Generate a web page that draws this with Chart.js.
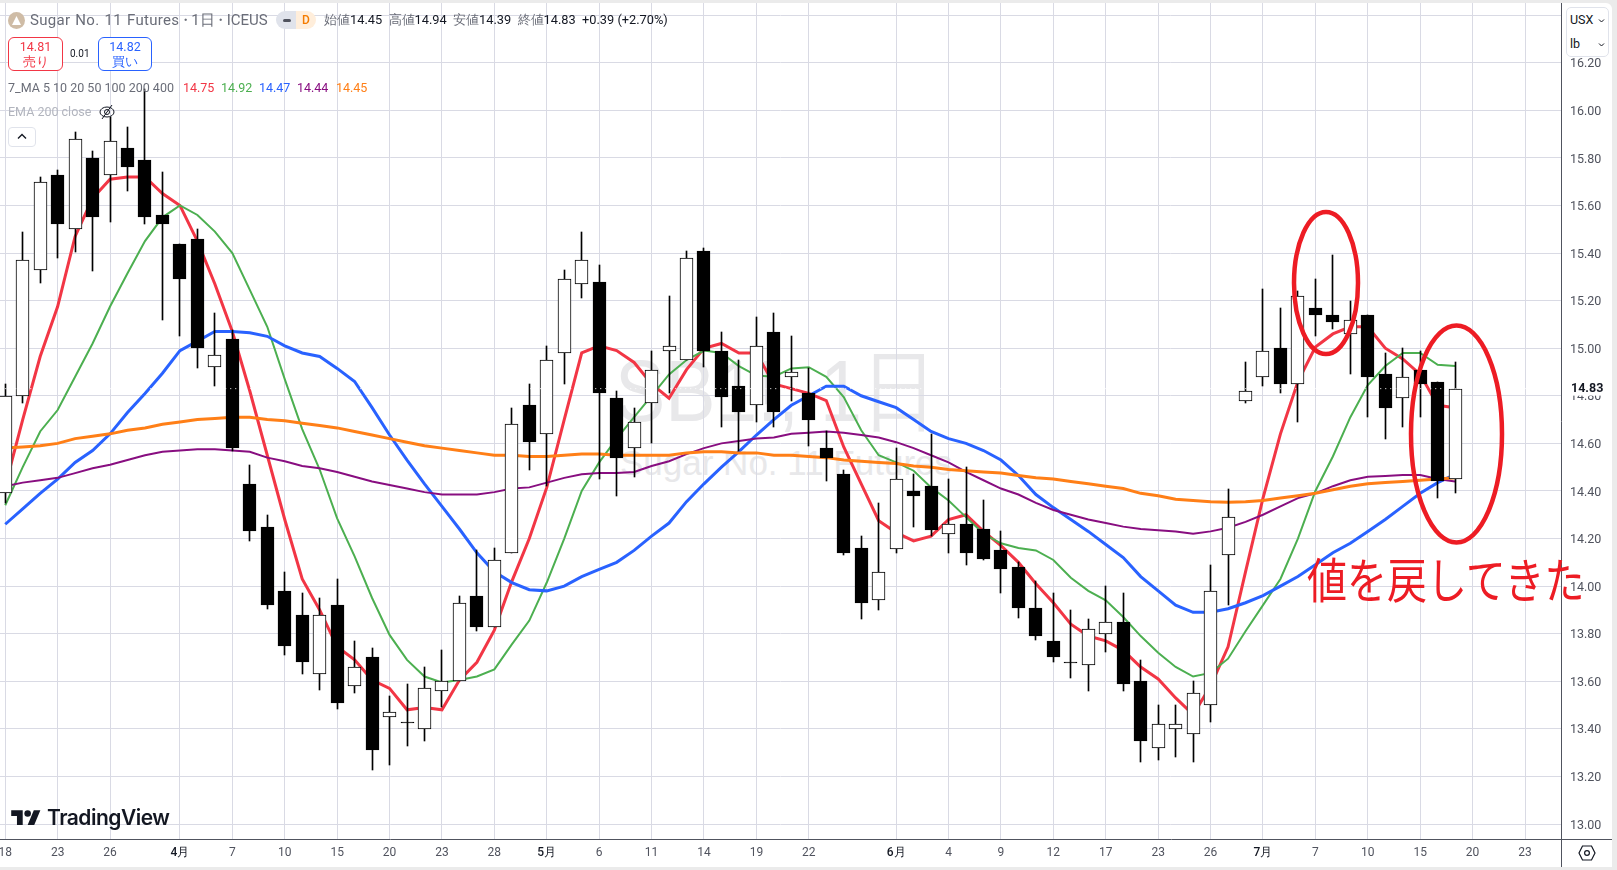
<!DOCTYPE html>
<html>
<head>
<meta charset="utf-8">
<title>Sugar No. 11 Futures</title>
<script src="https://cdn.jsdelivr.net/npm/chart.js@4"></script>
<style>
html, body { margin: 0; padding: 0; background: #ebebeb; width: 1617px; height: 870px; overflow: hidden; }
body { font-family: Roboto, sans-serif; color: #131722; }
#panel { position: absolute; left: 0; top: 3px; width: 1612px; height: 864px; background: #fff; border-top-right-radius: 6px; overflow: hidden; }
#myChart { position: absolute; left: 0; top: 0; }
.abs { position: absolute; white-space: nowrap; }
.wm { color: #e8e8ea; font-family: "Liberation Sans", sans-serif; transform-origin: 0 0; }
.gray { color: #6a6d78; }
.box { position: absolute; background: #fff; border-radius: 6px; border: 1px solid; box-sizing: border-box; text-align: center; font-size: 12.5px; line-height: 15px; padding-top: 1px; }
svg { position: absolute; overflow: visible; }
</style>
</head>
<body>
<div id="panel">
  <div class="abs wm" style="left:615px;top:338px;font-size:88px;line-height:100px;transform:scaleX(0.855)">SB1!, 1日</div>
  <div class="abs wm" style="left:620px;top:440px;font-size:35px;line-height:40px">Sugar No. 11 Futures</div>
  <canvas id="myChart" width="1612" height="864"></canvas>
</div>

<!-- cabecalho -->
<svg style="left:8px;top:12px" width="17" height="17"><circle cx="8.5" cy="8.5" r="8.5" fill="#cfbca6"/><path d="M8.5 4 L13 13 H4 Z" fill="#fff"/></svg>
<div class="abs gray" style="left:30px;top:11px;font-size:15px;line-height:18px"><span style="letter-spacing:0.3px;word-spacing:1px">Sugar No. 11 Futures</span><span style="margin:0 -1.5px">・</span>1日<span style="margin:0 -1.5px">・</span>ICEUS</div>
<div class="abs" style="left:276px;top:11px;width:20px;height:18px;background:#e0e3eb;border-radius:9px 0 0 9px"></div>
<div class="abs" style="left:283px;top:19px;width:8px;height:3px;background:#50535e;border-radius:2px"></div>
<div class="abs" style="left:296px;top:11px;width:20px;height:18px;background:#ffeedb;border-radius:0 9px 9px 0;color:#f57c00;font-size:12px;line-height:18px;text-align:center;font-weight:500">D</div>
<div class="abs" style="left:324px;top:11px;font-size:12.8px;line-height:18px"><span class="gray">始値</span>14.45&nbsp; <span class="gray">高値</span>14.94&nbsp; <span class="gray">安値</span>14.39&nbsp; <span class="gray">終値</span>14.83&nbsp; +0.39 (+2.70%)</div>

<div class="box" style="left:8px;top:37px;width:55px;height:34px;border-color:#f23645;color:#f23645">14.81<br>売り</div>
<div class="abs" style="left:70px;top:47px;font-size:10px;line-height:14px">0.01</div>
<div class="box" style="left:98px;top:37px;width:54px;height:34px;border-color:#2962ff;color:#2962ff">14.82<br>買い</div>

<div class="abs gray" style="left:8px;top:80px;font-size:12.5px;line-height:16px">7_MA 5 10 20 50 100 200 400</div>
<div class="abs" style="left:183px;top:80px;font-size:12.5px;line-height:16px;color:#f23645">14.75</div>
<div class="abs" style="left:221px;top:80px;font-size:12.5px;line-height:16px;color:#4caf50">14.92</div>
<div class="abs" style="left:259px;top:80px;font-size:12.5px;line-height:16px;color:#2962ff">14.47</div>
<div class="abs" style="left:297px;top:80px;font-size:12.5px;line-height:16px;color:#880e80">14.44</div>
<div class="abs" style="left:336px;top:80px;font-size:12.5px;line-height:16px;color:#ff7f17">14.45</div>

<div class="abs" style="left:8px;top:104px;font-size:12.5px;line-height:16px;color:#b2b5be">EMA 200 close</div>
<svg style="left:99px;top:104px" width="16" height="16" fill="none" stroke="#131722" stroke-width="1"><ellipse cx="8" cy="8" rx="7" ry="5"/><circle cx="8" cy="8" r="2.5"/><path d="M3 15 L13 1"/></svg>
<div class="abs" style="left:8px;top:127px;width:28px;height:20px;border:1px solid #e0e3eb;border-radius:4px;box-sizing:border-box"></div>
<svg style="left:17px;top:133px" width="10" height="7" fill="none" stroke="#131722" stroke-width="1.4"><path d="M1 5.5 L5 1.5 L9 5.5"/></svg>

<!-- logo -->
<svg style="left:11px;top:807px" width="30" height="23" viewBox="0 0 36 28" fill="#131722"><path d="M14 22H7V11H0V4h14v18zM28 22h-8l7.5-18h8L28 22z"/><circle cx="20" cy="8" r="4"/></svg>
<div class="abs" style="left:47px;top:805px;font-family:Inter,sans-serif;font-weight:600;font-size:21px;line-height:26px;letter-spacing:-0.5px">TradingView</div>

<!-- canto direito -->
<div class="abs" style="left:1561px;top:840px;width:1px;height:27px;background:#50535e"></div>
<div class="abs" style="left:1561px;top:839px;width:51px;height:1px;background:#50535e"></div>
<svg style="left:1578px;top:845px" width="18" height="16" fill="none" stroke="#131722" stroke-width="1.2"><path d="M4.5 1 H13.5 L17 8 L13.5 15 H4.5 L1 8 Z"/><circle cx="9" cy="8" r="2.4"/></svg>
<div class="abs" style="left:1566px;top:7px;width:43px;height:50px;background:#fff;border:1px solid #e0e3eb;border-radius:5px;box-sizing:border-box"></div>
<div class="abs" style="left:1570px;top:12px;font-size:12.5px;line-height:16px">USX</div>
<div class="abs" style="left:1570px;top:36px;font-size:12.5px;line-height:16px">lb</div>
<svg style="left:1598px;top:18px" width="7" height="30" fill="none" stroke="#131722" stroke-width="1"><path d="M1 1.5 L3.5 4 L6 1.5"/><path d="M1 25.5 L3.5 28 L6 25.5"/></svg>

<!-- marcacoes feitas a mao -->
<svg style="left:0;top:0" width="1617" height="870" fill="none" stroke="#ed1c24" stroke-width="4.5">
  <ellipse cx="1326" cy="283" rx="32" ry="71"/>
  <ellipse cx="1456.5" cy="434" rx="45.5" ry="108.5"/>
</svg>
<div class="abs" style="left:1307px;top:552px;font-family:'Noto Sans CJK JP',sans-serif;font-size:40px;line-height:52px;color:#ed1c24;transform:scaleY(1.2)">値を戻してきた</div>

<script>
// valores, um por candle
const opens = [14.39,14.80,15.33,15.73,15.50,15.80,15.73,15.84,15.79,15.56,15.44,15.46,14.92,15.04,14.43,14.25,13.98,13.88,13.63,13.92,13.58,13.70,13.45,13.43,13.40,13.56,13.60,13.96,13.83,14.14,14.76,14.64,14.98,15.27,15.28,14.79,14.58,14.77,14.99,14.95,15.41,14.99,14.84,14.76,15.07,14.88,14.81,14.58,14.47,14.16,13.94,14.155,14.40,14.42,14.22,14.26,14.24,14.15,14.08,13.91,13.77,13.68,13.67,13.80,13.85,13.60,13.32,13.40,13.38,13.50,14.13,14.78,14.88,15.00,14.85,15.17,15.14,15.06,15.14,14.89,14.79,14.91,14.86,14.45]
const highs = [14.85,15.49,15.72,15.75,15.91,15.83,15.97,15.93,16.09,15.74,15.44,15.50,15.15,15.075,14.51,14.30,14.06,13.97,13.95,14.03,13.77,13.74,13.54,13.59,13.66,13.73,13.96,14.15,14.16,14.75,14.85,15.01,15.33,15.49,15.35,14.82,14.75,14.99,15.22,15.41,15.42,15.07,14.95,15.13,15.15,15.05,14.915,14.65,14.49,14.21,14.35,14.58,14.47,14.64,14.45,14.50,14.36,14.23,14.10,14.02,13.97,13.90,13.86,14.00,13.97,13.69,13.50,13.50,13.60,14.09,14.41,14.94,15.25,15.17,15.24,15.29,15.39,15.20,15.14,14.98,15.00,14.99,14.86,14.94]
const lows = [14.35,14.77,15.275,15.38,15.405,15.325,15.53,15.66,15.52,15.12,15.05,14.915,14.84,14.57,14.19,13.905,13.71,13.63,13.565,13.485,13.55,13.225,13.25,13.33,13.35,13.49,13.60,13.81,13.83,14.14,14.49,14.42,14.85,15.21,14.45,14.38,14.46,14.60,14.81,14.95,14.92,14.67,14.57,14.69,14.67,14.78,14.59,14.44,14.13,13.86,13.90,14.14,14.25,14.21,14.14,14.09,14.11,13.97,13.865,13.775,13.68,13.615,13.56,13.725,13.56,13.26,13.27,13.28,13.26,13.43,13.92,14.77,14.84,14.81,14.69,15.05,15.08,14.89,14.71,14.62,14.67,14.71,14.37,14.39]
const closes = [14.80,15.37,15.70,15.52,15.88,15.55,15.87,15.76,15.55,15.52,15.29,15.00,14.97,14.58,14.23,13.92,13.75,13.68,13.88,13.51,13.66,13.31,13.47,13.43,13.57,13.60,13.93,13.83,14.11,14.68,14.605,14.95,15.29,15.37,14.81,14.54,14.69,14.91,15.01,15.38,14.99,14.795,14.73,15.01,14.73,14.90,14.70,14.54,14.14,13.93,14.06,14.45,14.38,14.235,14.26,14.14,14.115,14.07,13.91,13.79,13.70,13.68,13.82,13.85,13.59,13.35,13.42,13.42,13.55,13.98,14.29,14.82,14.99,14.85,15.22,15.14,15.11,15.12,14.88,14.75,14.88,14.85,14.44,14.83]

const ma5 = [14.42,14.70,14.965,15.175,15.47,15.63,15.71,15.72,15.72,15.65,15.60,15.45,15.27,15.07,14.82,14.55,14.28,14.03,13.90,13.745,13.69,13.605,13.57,13.48,13.49,13.48,13.605,13.68,13.815,14.02,14.20,14.415,14.70,14.98,15.01,14.99,14.94,14.85,14.79,14.91,15.00,15.02,14.98,14.98,14.85,14.83,14.81,14.78,14.585,14.43,14.275,14.225,14.19,14.21,14.28,14.30,14.23,14.17,14.10,14.01,13.93,13.84,13.79,13.77,13.73,13.66,13.61,13.53,13.46,13.58,13.745,14.06,14.37,14.64,14.86,15.005,15.06,15.09,15.09,15.00,14.955,14.89,14.76,14.75]
const ma10 = [14.34,14.50,14.65,14.74,14.88,15.02,15.175,15.315,15.45,15.55,15.60,15.56,15.49,15.40,15.245,15.09,14.87,14.66,14.49,14.285,14.125,13.95,13.795,13.69,13.62,13.595,13.605,13.62,13.65,13.755,13.855,14.015,14.20,14.40,14.52,14.62,14.71,14.80,14.89,14.95,14.99,14.98,14.925,14.885,14.88,14.915,14.92,14.88,14.795,14.655,14.55,14.52,14.485,14.415,14.36,14.29,14.22,14.18,14.16,14.15,14.11,14.035,13.98,13.94,13.87,13.79,13.72,13.66,13.62,13.635,13.695,13.81,13.92,14.03,14.20,14.40,14.545,14.71,14.845,14.925,14.98,14.98,14.93,14.925]
const ma20 = [14.26,14.325,14.39,14.45,14.52,14.57,14.64,14.73,14.81,14.895,14.99,15.03,15.07,15.07,15.065,15.05,15.01,14.98,14.965,14.915,14.86,14.75,14.635,14.53,14.43,14.335,14.24,14.14,14.06,14.015,13.985,13.98,14.00,14.04,14.07,14.10,14.15,14.21,14.265,14.355,14.43,14.50,14.565,14.635,14.70,14.76,14.80,14.84,14.84,14.80,14.775,14.75,14.70,14.65,14.62,14.60,14.57,14.53,14.465,14.385,14.33,14.28,14.23,14.175,14.12,14.04,13.98,13.92,13.89,13.89,13.905,13.93,13.96,14.00,14.04,14.09,14.14,14.18,14.23,14.28,14.335,14.39,14.435,14.47]
const ma50 = [14.42,14.435,14.445,14.455,14.475,14.495,14.51,14.53,14.55,14.565,14.57,14.575,14.575,14.57,14.565,14.54,14.525,14.505,14.495,14.48,14.46,14.44,14.425,14.41,14.395,14.385,14.385,14.385,14.395,14.41,14.415,14.435,14.455,14.47,14.475,14.475,14.48,14.505,14.525,14.555,14.58,14.60,14.61,14.62,14.625,14.64,14.645,14.65,14.645,14.635,14.625,14.605,14.58,14.55,14.52,14.48,14.445,14.41,14.385,14.35,14.32,14.30,14.28,14.265,14.25,14.24,14.235,14.23,14.22,14.23,14.245,14.27,14.30,14.335,14.37,14.39,14.42,14.445,14.46,14.463,14.467,14.467,14.45,14.44]
const ema200 = [14.58,14.585,14.59,14.60,14.62,14.63,14.64,14.655,14.665,14.68,14.69,14.70,14.705,14.71,14.71,14.70,14.695,14.685,14.675,14.665,14.65,14.635,14.62,14.605,14.59,14.58,14.57,14.56,14.55,14.55,14.545,14.545,14.55,14.555,14.555,14.55,14.55,14.55,14.55,14.56,14.565,14.565,14.56,14.56,14.55,14.55,14.545,14.54,14.53,14.525,14.52,14.515,14.505,14.50,14.49,14.485,14.48,14.475,14.465,14.455,14.45,14.44,14.43,14.42,14.41,14.39,14.38,14.365,14.36,14.355,14.352,14.355,14.36,14.37,14.38,14.39,14.405,14.42,14.43,14.435,14.44,14.445,14.45,14.455]

const tickBars = [0,3,6,10,13,16,19,22,25,28,31,34,37,40,43,46,51,54,57,60,63,66,69,72,75,78,81,84,87]
const tickNames = ["18","23","26","4月","7","10","15","20","23","28","5月","6","11","14","19","22","6月","4","9","12","17","23","26","7月","7","10","15","20","23"]
const priceTicks = [13,13.2,13.4,13.6,13.8,14,14.2,14.4,14.6,14.8,15,15.2,15.4,15.6,15.8,16,16.2,16.4]
const lastPrice = 14.83

const textColor = "#50535e"
const gridColor = "#d9dae4"

function serie(valores) {
    return valores.map((y, i) => ({ x: i, y: y }))
}

function linha(label, valores, cor, largura, ordem) {
    return {
        type: "line",
        label: label,
        data: serie(valores),
        borderColor: cor,
        borderWidth: largura,
        pointRadius: 0,
        tension: 0,
        order: ordem,
    }
}

// encaixa os candles no pixel inteiro, senao a borda fica borrada
const candleNitido = {
    id: "candleNitido",
    afterDatasetsUpdate(chart) {
        chart.getSortedVisibleDatasetMetas().forEach((meta) => {
            if (meta.type !== "bar") return
            meta.data.forEach((el) => {
                el.x = Math.floor(el.x) + 0.5
                el.y = Math.round(el.y)
                el.base = Math.round(el.base)
                if (el.y === el.base) el.base = el.y + 1
            })
        })
    },
}

const precoAtual = {
    id: "precoAtual",
    afterDraw(chart) {
        const ctx = chart.ctx
        const y = chart.scales.y.getPixelForValue(lastPrice)
        ctx.save()
        ctx.fillStyle = "#fff"
        ctx.fillRect(chart.chartArea.right + 1, y - 7, 50, 14)
        ctx.fillStyle = "#131722"
        ctx.font = "bold 12.5px Roboto"
        ctx.textBaseline = "middle"
        ctx.fillText(lastPrice.toFixed(2), chart.chartArea.right + 10, y)
        ctx.restore()
    },
}

const data = {
    datasets: [
        {
            type: "line",
            label: "preco",
            data: [{ x: 0, y: lastPrice }, { x: 89, y: lastPrice }],
            borderColor: "#ffffff",
            borderWidth: 1,
            borderDash: [1, 4],
            pointRadius: 0,
            order: 0,
        },
        {
            type: "bar",
            label: "corpo",
            data: opens.map((o, i) => ({ x: i, y: [o, closes[i]] })),
            backgroundColor: opens.map((o, i) => (closes[i] > o ? "#ffffff" : "#000000")),
            borderColor: "#000000",
            borderWidth: 1,
            borderSkipped: false,
            barThickness: 13,
            grouped: false,
            order: 1,
        },
        {
            type: "bar",
            label: "pavio",
            data: highs.map((h, i) => ({ x: i, y: [lows[i], h] })),
            backgroundColor: "#000000",
            barThickness: 1,
            grouped: false,
            order: 2,
        },
        linha("MA400", ema200, "#ff7f17", 3, 3),
        linha("MA50", ma50, "#880e80", 2, 4),
        linha("MA20", ma20, "#2962ff", 3, 5),
        linha("MA10", ma10, "#4caf50", 2, 6),
        linha("MA5", ma5, "#f23645", 3, 7),
    ],
}

const config = {
    data,
    plugins: [candleNitido, precoAtual],
    options: {
        responsive: false,
        animation: false,
        devicePixelRatio: 1,
        events: [],
        layout: { padding: 0 },
        plugins: { legend: { display: false }, tooltip: { enabled: false } },
        scales: {
            x: {
                type: "linear",
                offset: false,
                min: -0.3,
                max: 89.06,
                grid: { color: gridColor, drawTicks: false, offset: false },
                border: { color: textColor },
                afterBuildTicks: (axis) => {
                    axis.ticks = tickBars.map((v) => ({ value: v }))
                },
                afterFit: (axis) => {
                    axis.height = 28
                    axis.paddingLeft = 0
                    axis.paddingRight = 0
                },
                ticks: {
                    autoSkip: false,
                    maxRotation: 0,
                    padding: 7,
                    color: (c) => (String(tickNames[c.index]).includes("月") ? "#131722" : textColor),
                    font: (c) => ({
                        family: "Roboto",
                        size: 12,
                        weight: String(tickNames[c.index]).includes("月") ? "500" : "400",
                    }),
                    callback: (v) => tickNames[tickBars.indexOf(v)],
                },
            },
            y: {
                type: "linear",
                position: "right",
                min: 12.937,
                max: 16.451,
                grid: { color: gridColor, drawTicks: false },
                border: { color: textColor },
                afterBuildTicks: (axis) => {
                    axis.ticks = priceTicks.map((v) => ({ value: v }))
                },
                afterFit: (axis) => {
                    axis.width = 51
                    axis.paddingTop = 0
                    axis.paddingBottom = 0
                },
                ticks: {
                    padding: 9,
                    labelOffset: 1.5,
                    color: textColor,
                    font: { family: "Roboto", size: 12.5 },
                    callback: (v) => v.toFixed(2),
                },
            },
        },
    },
}

new Chart(document.getElementById("myChart").getContext("2d"), config)
</script>
</body>
</html>
